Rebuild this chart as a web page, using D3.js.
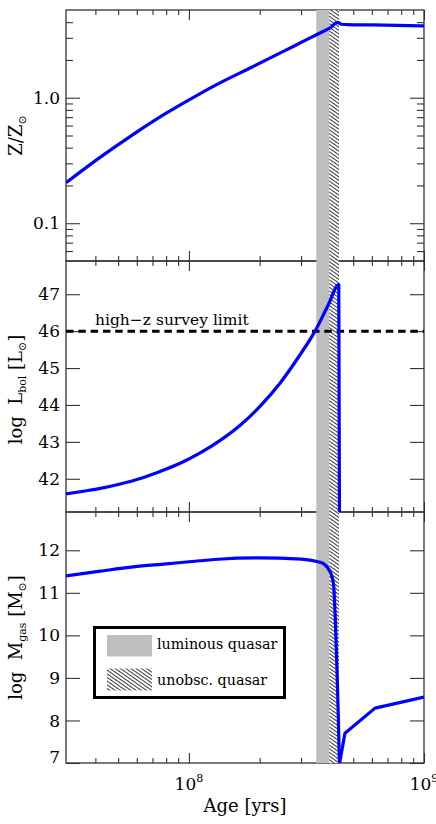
<!DOCTYPE html>
<html>
<head>
<meta charset="utf-8">
<script src="https://cdn.jsdelivr.net/npm/d3@7"></script>
<style>
body { margin: 0; background: #fff; }
text { font-family: "DejaVu Serif", "Liberation Serif", serif; fill: #000; }
</style>
</head>
<body>
<svg id="chart" width="436" height="824"></svg>
<script>
// metallicity
const zAge = [3.0e7, 4.2e7, 5.8e7, 8.07e7, 1.117e8, 1.33e8, 1.85e8, 2.56e8, 3.12e8, 3.54e8, 3.91e8, 4.0e8, 4.15e8, 4.25e8, 4.32e8, 4.45e8, 4.7e8, 6.0e8, 1.0e9];
const zVal = [0.21, 0.336, 0.511, 0.76, 1.08, 1.29, 1.75, 2.37, 2.86, 3.22, 3.53, 3.62, 3.85, 3.97, 3.97, 3.85, 3.83, 3.8, 3.74];

// bolometric luminosity
const lAge = [3.0e7, 3.62e7, 4.2e7, 5.1e7, 6.21e7, 7.54e7, 9.18e7, 1.117e8, 1.359e8, 1.652e8, 2.01e8, 2.44e8, 2.97e8, 3.44e8, 3.91e8, 4.34e8, 4.37e8];
const lVal = [41.59, 41.67, 41.74, 41.86, 42.01, 42.20, 42.42, 42.70, 43.04, 43.45, 43.97, 44.59, 45.36, 46.0, 46.70, 47.26, 40.9];

// gas mass
const mAge = [3.0e7, 4.2e7, 5.8e7, 8.0e7, 1.0e8, 1.33e8, 1.97e8, 3.01e8, 3.54e8, 3.73e8, 3.99e8, 4.12e8, 4.19e8, 4.26e8, 4.32e8, 4.37e8, 4.61e8, 6.19e8, 1.0e9];
const mVal = [11.40, 11.51, 11.61, 11.68, 11.73, 11.79, 11.82, 11.79, 11.73, 11.69, 11.49, 11.22, 10.44, 9.27, 8.10, 6.98, 7.70, 8.29, 8.55];

// quasar phases
const luminousPhase = [3.48e8, 3.95e8];
const unobscPhase = [3.95e8, 4.35e8];
const surveyLimit = 46;

// ticks
const xMajor = [1e8, 1e9];
const xMinor = [4e7, 5e7, 6e7, 7e7, 8e7, 9e7, 2e8, 3e8, 4e8, 5e8, 6e8, 7e8, 8e8, 9e8];
const xLabels = [["10", "8"], ["10", "9"]];
const zMajor = [0.1, 1.0];
const zMinor = [0.06, 0.07, 0.08, 0.09, 0.2, 0.3, 0.4, 0.5, 0.6, 0.7, 0.8, 0.9, 2, 3, 4];
const zLabels = ["0.1", "1.0"];
const lMajor = [42, 43, 44, 45, 46, 47];
const mMajor = [7, 8, 9, 10, 11, 12];

let left = 66, right = 424;
let tops = [10, 261, 512];
let ph = 251;
let svg = d3.select("#chart");

const x = d3.scaleLog().domain([3e7, 1e9]).range([left, right]);
const yZ = d3.scaleLog().domain([0.05, 5]).range([tops[0] + ph, tops[0]]);
const yL = d3.scaleLinear().domain([41.1, 47.9]).range([tops[1] + ph, tops[1]]);
const yM = d3.scaleLinear().domain([7, 12.9]).range([tops[2] + ph, tops[2]]);

let defs = svg.append("defs");
let pat = defs.append("pattern")
    .attr("id", "hatch")
    .attr("patternUnits", "userSpaceOnUse")
    .attr("width", 6).attr("height", 3)
    .attr("patternTransform", "rotate(35)");
pat.append("rect").attr("width", 6).attr("height", 3).attr("fill", "#fff");
pat.append("line").attr("x1", 0).attr("x2", 6).attr("y1", 1.5).attr("y2", 1.5)
    .attr("stroke", "#222").attr("stroke-width", 0.9);

tops.forEach((t, i) => {
    defs.append("clipPath").attr("id", "clip" + i)
        .append("rect").attr("x", left).attr("y", t).attr("width", right - left).attr("height", ph);
});

// ejes y frames
function drawPanel(i, y, major, minor, labels) {
    let t = tops[i], b = t + ph;
    let g = svg.append("g").attr("class", "panel");

    let ax = g.append("g");
    // x ticks arriba / abajo
    ax.append("g").attr("transform", `translate(0,${t})`)
        .call(d3.axisTop(x).tickValues(xMajor).tickSizeInner(-10).tickSizeOuter(0).tickFormat(""));
    ax.append("g").attr("transform", `translate(0,${t})`)
        .call(d3.axisTop(x).tickValues(xMinor).tickSizeInner(-5).tickSizeOuter(0).tickFormat(""));
    ax.append("g").attr("transform", `translate(0,${b})`)
        .call(d3.axisBottom(x).tickValues(xMajor).tickSizeInner(-10).tickSizeOuter(0).tickFormat(""));
    ax.append("g").attr("transform", `translate(0,${b})`)
        .call(d3.axisBottom(x).tickValues(xMinor).tickSizeInner(-5).tickSizeOuter(0).tickFormat(""));
    // y ticks izq / der
    ax.append("g").attr("transform", `translate(${left},0)`)
        .call(d3.axisLeft(y).tickValues(major).tickSizeInner(-14).tickSizeOuter(0).tickFormat(""));
    ax.append("g").attr("transform", `translate(${right},0)`)
        .call(d3.axisRight(y).tickValues(major).tickSizeInner(-14).tickSizeOuter(0).tickFormat(""));
    if (minor) {
        ax.append("g").attr("transform", `translate(${left},0)`)
            .call(d3.axisLeft(y).tickValues(minor).tickSizeInner(-7).tickSizeOuter(0).tickFormat(""));
        ax.append("g").attr("transform", `translate(${right},0)`)
            .call(d3.axisRight(y).tickValues(minor).tickSizeInner(-7).tickSizeOuter(0).tickFormat(""));
    }
    ax.selectAll(".domain").remove();
    ax.selectAll(".tick line").attr("stroke", "#333").attr("stroke-width", 1.1);

    g.append("rect")
        .attr("x", left).attr("y", t).attr("width", right - left).attr("height", ph)
        .attr("fill", "none").attr("stroke", "#333").attr("stroke-width", 1.3);

    // etiquetas
    g.selectAll(".ylab")
        .data(major)
        .enter()
        .append("text")
        .attr("class", "ylab")
        .attr("x", left - 6)
        .attr("y", d => Math.min(y(d), b - 6))
        .attr("dy", "0.36em")
        .attr("text-anchor", "end")
        .style("font-size", "17px")
        .text((d, k) => labels ? labels[k] : d);
}

drawPanel(0, yZ, zMajor, zMinor, zLabels);
drawPanel(1, yL, lMajor, null, null);
drawPanel(2, yM, mMajor, null, null);

// bandas
svg.append("rect")
    .attr("x", x(luminousPhase[0])).attr("y", tops[0])
    .attr("width", x(luminousPhase[1]) - x(luminousPhase[0]))
    .attr("height", tops[2] + ph - tops[0])
    .attr("fill", "#bebebe");
svg.append("rect")
    .attr("x", x(unobscPhase[0])).attr("y", tops[0])
    .attr("width", x(unobscPhase[1]) - x(unobscPhase[0]))
    .attr("height", tops[2] + ph - tops[0])
    .attr("fill", "url(#hatch)");

// limite survey
svg.append("line")
    .attr("x1", left).attr("x2", right)
    .attr("y1", yL(surveyLimit)).attr("y2", yL(surveyLimit))
    .attr("stroke", "#000").attr("stroke-width", 3)
    .attr("stroke-dasharray", "7.5,4.8");
svg.append("text")
    .attr("x", 95).attr("y", yL(surveyLimit) - 6)
    .style("font-size", "15.5px")
    .text("high\u2212z survey limit");

// curvas
function drawCurve(i, y, pts, curve) {
    let line = d3.line()
        .x(d => x(d[0]))
        .y(d => y(d[1]))
        .curve(curve);
    svg.append("path")
        .datum(pts)
        .attr("clip-path", `url(#clip${i})`)
        .attr("d", line)
        .attr("fill", "none")
        .attr("stroke", "#0000ff")
        .attr("stroke-width", 3.2)
        .attr("stroke-linejoin", "round");
}
let zPts = zAge.map((a, k) => [a, zVal[k]]);
let lPts = lAge.map((a, k) => [a, lVal[k]]);
let mPts = mAge.map((a, k) => [a, mVal[k]]);
drawCurve(0, yZ, zPts, d3.curveMonotoneX);
drawCurve(1, yL, lPts, d3.curveMonotoneX);
// la masa de gas: suave hasta el minimo, luego tramos rectos
let iMin = d3.minIndex(mVal);
drawCurve(2, yM, mPts.slice(0, iMin + 1), d3.curveMonotoneX);
drawCurve(2, yM, mPts.slice(iMin), d3.curveLinear);

// leyenda
let leg = svg.append("g");
leg.append("rect")
    .attr("x", 94.5).attr("y", 627.5).attr("width", 190).attr("height", 70)
    .attr("fill", "#fff").attr("stroke", "#000").attr("stroke-width", 3);
leg.append("rect")
    .attr("x", 107).attr("y", 635).attr("width", 45).attr("height", 21.5)
    .attr("fill", "#bebebe");
leg.append("rect")
    .attr("x", 107).attr("y", 668.5).attr("width", 45).attr("height", 22)
    .attr("fill", "url(#hatch)");
leg.append("text").attr("x", 157).attr("y", 649).style("font-size", "14.3px").text("luminous quasar");
leg.append("text").attr("x", 157).attr("y", 685).style("font-size", "14.3px").text("unobsc. quasar");

// x labels
let bottom = tops[2] + ph;
xMajor.forEach((v, k) => {
    let tx = svg.append("text")
        .attr("x", x(v)).attr("y", bottom + 27)
        .attr("text-anchor", "middle")
        .style("font-size", "17px");
    tx.append("tspan").text(xLabels[k][0]);
    tx.append("tspan").attr("dy", -8).style("font-size", "11px").text(xLabels[k][1]);
});
svg.append("text")
    .attr("x", (left + right) / 2).attr("y", 812)
    .attr("text-anchor", "middle")
    .style("font-size", "18px")
    .text("Age [yrs]");

// y titles
function yTitle(cy, parts) {
    let tx = svg.append("text")
        .attr("transform", `translate(22,${cy}) rotate(-90)`)
        .attr("text-anchor", "middle")
        .style("font-size", "18px");
    parts.forEach(p => {
        let s = tx.append("tspan").text(p[0]);
        if (p[1] == "sub") {
            s.style("font-size", "11px").attr("dy", 4);
        } else if (p[1] == "back") {
            s.attr("dy", -4);
        }
    });
}
yTitle(tops[0] + ph / 2, [["Z/Z"], ["\u2299", "sub"]]);
yTitle(tops[1] + ph / 2 + 3, [["log\u00a0\u00a0L"], ["bol", "sub"], ["\u00a0[L", "back"], ["\u2299", "sub"], ["]", "back"]]);
yTitle(tops[2] + ph / 2, [["log\u00a0\u00a0M"], ["gas", "sub"], ["\u00a0[M", "back"], ["\u2299", "sub"], ["]", "back"]]);
</script>
</body>
</html>
